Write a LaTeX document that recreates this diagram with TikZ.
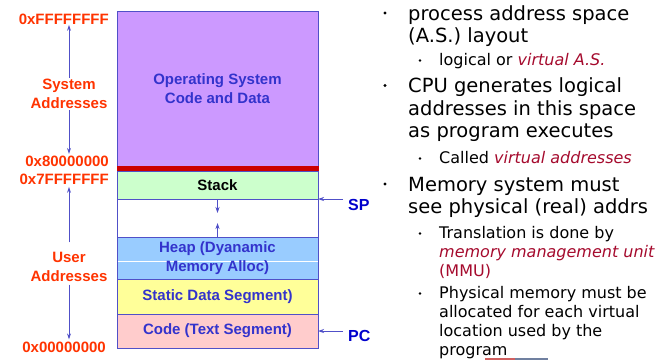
\documentclass[tikz,border=0pt]{standalone}
\usepackage{fontspec}
\setmainfont{Liberation Sans}
\newfontfamily\slidefont{DejaVu Sans}
\usetikzlibrary{positioning,arrows.meta}
\definecolor{osviolet}{HTML}{CC99FF}
\definecolor{stackgreen}{HTML}{CCFFCC}
\definecolor{heapblue}{HTML}{99CCFF}
\definecolor{datayellow}{HTML}{FFFF99}
\definecolor{codepink}{HTML}{FFCCCC}
\definecolor{segframe}{HTML}{5050C8}
\definecolor{segtext}{HTML}{3333CC}
\definecolor{addrred}{HTML}{FF3300}
\definecolor{regblue}{HTML}{0000CC}
\definecolor{barred}{HTML}{CC0000}
\definecolor{termred}{HTML}{A50A2D}
\definecolor{decored}{HTML}{D06060}
\definecolor{decoblue}{HTML}{7080A0}

\begin{document}
\begin{tikzpicture}[x=1pt,y=-1pt,
  seg/.style={draw=segframe,line width=0.8pt,minimum width=201pt,inner sep=0pt,outer sep=0pt,
              align=center,font=\fontsize{15}{19}\selectfont\bfseries,text=segtext},
  segtxt/.style={align=center,font=\fontsize{15}{19}\selectfont\bfseries,text=segtext,inner sep=0pt},
  addr/.style={font=\fontsize{15}{18.5}\selectfont\bfseries,text=addrred,inner sep=0pt,align=center},
  reg/.style={font=\fontsize{16}{19}\selectfont\bfseries,text=regblue,anchor=base west,inner sep=0pt},
  span/.style={-{Stealth[length=6pt,width=4pt]},segframe,thick},
  lone/.style={font=\slidefont\fontsize{19.5}{22.5}\selectfont,anchor=base west,inner sep=0pt,align=left},
  ltwo/.style={font=\slidefont\fontsize{16}{19}\selectfont,anchor=base west,inner sep=0pt,align=left},
  dot/.style={circle,fill=black,inner sep=0pt,minimum size=3.2pt},
  smalldot/.style={circle,fill=black,inner sep=0pt,minimum size=2.6pt}]
\useasboundingbox (0,0) rectangle (660,360);

% memory layout
\node[seg,fill=osviolet,minimum height=155pt,anchor=north] (os) at (217.5,11) {Operating System\\Code and Data};
\node[seg,fill=barred,draw=barred,minimum height=5pt,below=0pt of os] (bar) {};
\node[seg,fill=stackgreen,minimum height=28pt,text=black,below=0pt of bar] (stack) {Stack};
\node[seg,fill=white,minimum height=38pt,below=0pt of stack] (gap) {};
\node[seg,fill=heapblue,minimum height=42pt,below=0pt of gap] (heap) {};
\node[seg,fill=datayellow,minimum height=35pt,below=0pt of heap] (static) {Static Data Segment)};
\node[seg,fill=codepink,minimum height=34pt,below=0pt of static] (code) {Code (Text Segment)};
\draw[white,line width=0.8pt] ([xshift=0.5pt,yshift=-3pt]heap.west) -- ([xshift=-0.5pt,yshift=-3pt]heap.east);
\node[segtxt] (heaptxt) at (heap.center) {Heap (Dyanamic\\Memory Alloc)};
\draw[span] (stack.south) -- ++(0,14);
\draw[span] (heap.north) -- ++(0,-14);

% address labels
\node[addr,anchor=base east] (topaddr) at (109,24.5) {0xFFFFFFFF};
\node[addr] (sysaddr) at (69,94) {System\\Addresses};
\node[addr,anchor=base east] (midhi) at (109,166.5) {0x80000000};
\node[addr,anchor=base east] (midlo) at (109,184.5) {0x7FFFFFFF};
\node[addr] (useraddr) at (69,267) {User\\Addresses};
\node[addr,anchor=base east] (botaddr) at (106,352) {0x00000000};
\draw[span,shorten <=1pt] (sysaddr.north) -- (sysaddr.north |- topaddr.south);
\draw[span,shorten <=1pt] (sysaddr.south) -- ([yshift=2pt]sysaddr.south |- midhi.north);
\draw[span,shorten <=10pt] (useraddr.north) -- ([yshift=-2pt]useraddr.north |- midlo.south);
\draw[span,shorten <=3pt] (useraddr.south) -- ([yshift=2pt]useraddr.south |- botaddr.north);

% registers
\node[reg] (sp) at (348,210.5) {SP};
\node[reg] (pc) at (348,341) {PC};
\draw[span] ([xshift=-5pt]sp.west |- stack.south east) -- (stack.south east);
\draw[span] ([xshift=-5pt]pc.west |- code.east) -- (code.east);

% notes (base = last line)
\node[dot] (b1) at (385,13) {};
\node[lone] (t1) at (408,42.5) {process address space\\(A.S.) layout};
\node[smalldot] (b2) at (420,60.5) {};
\node[ltwo] (t2) at (439,65) {logical or \textcolor{termred}{\itshape virtual A.S.}};
\node[dot] (b3) at (385,85.5) {};
\node[lone] (t3) at (408,137.5) {CPU generates logical\\addresses in this space\\as program executes};
\node[smalldot] (b4) at (420,158.5) {};
\node[ltwo] (t4) at (439,163) {Called \textcolor{termred}{\itshape virtual addresses}};
\node[dot] (b5) at (385,184) {};
\node[lone] (t5) at (408,213.5) {Memory system must\\see physical (real) addrs};
\node[smalldot] (b6) at (420,233.5) {};
\node[ltwo] (t6) at (439,276) {Translation is done by\\\textcolor{termred}{\itshape memory management unit}\\\textcolor{termred}{(MMU)}};
\node[smalldot] (b7) at (420,293.5) {};
\node[ltwo] (t7) at (439,355) {Physical memory must be\\allocated for each virtual\\location used by the\\program};
\draw[decored,line width=1.5pt] (485,359.2) -- (515,359.2);
\draw[decoblue,line width=1.5pt] (515,359.2) -- (548,359.2);
\end{tikzpicture}
\end{document}
